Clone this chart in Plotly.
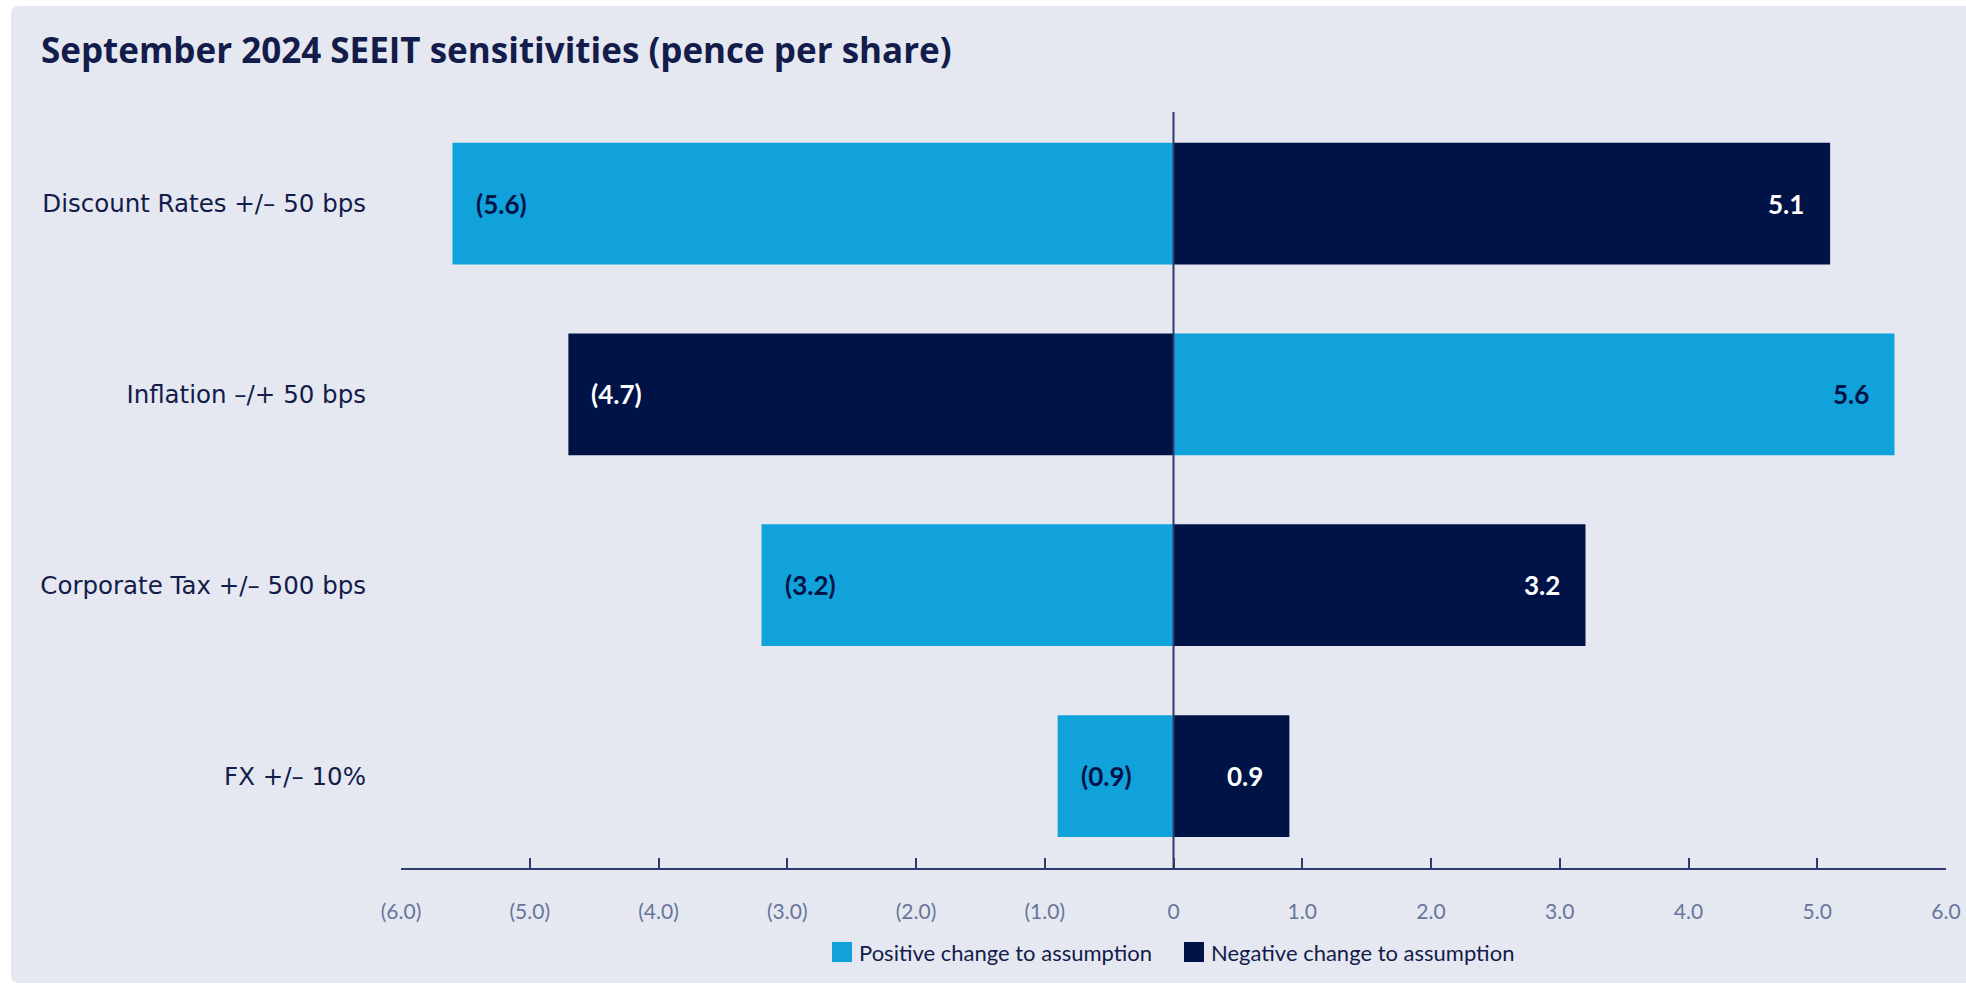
import plotly.graph_objects as go

# Sensitivity drivers, top to bottom
categories = [
    "Discount Rates +/\u2013 50 bps",
    "Inflation \u2013/+ 50 bps",
    "Corporate Tax +/\u2013 500 bps",
    "FX +/\u2013 10%",
]
# NAV impact in pence per share
positive_change = [-5.6, 5.6, -3.2, -0.9]
negative_change = [5.1, -4.7, 3.2, 0.9]

x_tickvals = [-6, -5, -4, -3, -2, -1, 0, 1, 2, 3, 4, 5, 6]
x_ticktext = ["(6.0)", "(5.0)", "(4.0)", "(3.0)", "(2.0)", "(1.0)", "0",
              "1.0", "2.0", "3.0", "4.0", "5.0", "6.0"]

CYAN = "#11A2DC"
NAVY = "#001346"
CARD = "#E5E8F0"
TEXT = "#131C4A"
TICK = "#68759B"
AXIS = "#2E3A6C"

W, H = 1966, 984
ML, MR, MT, MB = 401, 20, 112, 116
PW, PH = W - ML - MR, H - MT - MB


def px_x(p):
    return (p - ML) / PW


def px_y(p):
    return (H - MB - p) / PH


def fmt(v):
    return f"({abs(v):.1f})" if v < 0 else f"{v:.1f}"


fig = go.Figure()
fig.add_trace(go.Bar(y=categories, x=positive_change, orientation="h",
                     name="Positive change to assumption",
                     marker=dict(color=CYAN, line=dict(width=0)),
                     hoverinfo="skip"))
fig.add_trace(go.Bar(y=categories, x=negative_change, orientation="h",
                     name="Negative change to assumption",
                     marker=dict(color=NAVY, line=dict(width=0)),
                     hoverinfo="skip"))

annotations = []
for values, colour in ((positive_change, NAVY), (negative_change, "white")):
    for cat, v in zip(categories, values):
        annotations.append(dict(
            x=v, y=cat, xref="x", yref="y", text=f"<b>{fmt(v)}</b>",
            showarrow=False, xanchor="left" if v < 0 else "right",
            xshift=21 if v < 0 else -24, yanchor="middle",
            font=dict(family="Lato", size=26, color=colour)))

# legend drawn as swatches + labels
legend_items = [("Positive change to assumption", CYAN, 832),
                ("Negative change to assumption", NAVY, 1184)]
shapes = []
# background card with rounded left corners
r = 8
x0, y0, x1, y1 = 11, 6, 1990, 983
path = (f"M {px_x(x0 + r)},{px_y(y0)} L {px_x(x1)},{px_y(y0)} "
        f"L {px_x(x1)},{px_y(y1)} L {px_x(x0 + r)},{px_y(y1)} "
        f"Q {px_x(x0)},{px_y(y1)} {px_x(x0)},{px_y(y1 - r)} "
        f"L {px_x(x0)},{px_y(y0 + r)} "
        f"Q {px_x(x0)},{px_y(y0)} {px_x(x0 + r)},{px_y(y0)} Z")
shapes.append(dict(type="path", path=path, xref="paper", yref="paper",
                   fillcolor=CARD, line=dict(width=0), layer="below"))
for label, colour, sx in legend_items:
    shapes.append(dict(type="rect", xref="paper", yref="paper",
                       x0=px_x(sx), x1=px_x(sx + 20),
                       y0=px_y(962), y1=px_y(942),
                       fillcolor=colour, line=dict(width=0)))
    annotations.append(dict(x=px_x(sx + 25), y=px_y(952), xref="paper",
                            yref="paper", text=label, showarrow=False,
                            xanchor="left", yanchor="middle",
                            font=dict(family="Lato", size=22, color=TEXT)))

# zero reference line drawn over the bars
shapes.append(dict(type="line", xref="x", yref="paper", x0=0, x1=0,
                   y0=0, y1=1, line=dict(color=AXIS, width=2),
                   layer="above"))

fig.update_layout(
    width=W, height=H,
    margin=dict(l=ML, r=MR, t=MT, b=MB, autoexpand=False),
    paper_bgcolor="white",
    plot_bgcolor="rgba(0,0,0,0)",
    barmode="relative",
    bargap=0.362,
    showlegend=False,
    title=dict(text="<b>September 2024 SEEIT sensitivities (pence per share)</b>",
               xref="container", yref="container",
               x=41 / W, xanchor="left", y=1 - 51 / H, yanchor="middle",
               font=dict(family="Open Sans", size=35, color=TEXT)),
    shapes=shapes,
    annotations=annotations,
    xaxis=dict(range=[-6, 6], tickvals=x_tickvals, ticktext=x_ticktext,
               showgrid=False, zeroline=False, showline=True,
               linecolor=AXIS, linewidth=2, ticks="inside", ticklen=10,
               tickwidth=1.5, tickcolor=AXIS, ticklabelstandoff=24,
               tickfont=dict(family="Lato", size=21, color=TICK),
               automargin=False, fixedrange=True),
    yaxis=dict(type="category", categoryorder="array",
               categoryarray=categories, range=[3.482, -0.48],
               showgrid=False, zeroline=False, showline=False, ticks="",
               ticklabelstandoff=34,
               tickfont=dict(family="DejaVu Sans", size=24.5, color=TEXT),
               automargin=False, fixedrange=True),
)

fig.write_html("out.html", config=dict(displayModeBar=False))
